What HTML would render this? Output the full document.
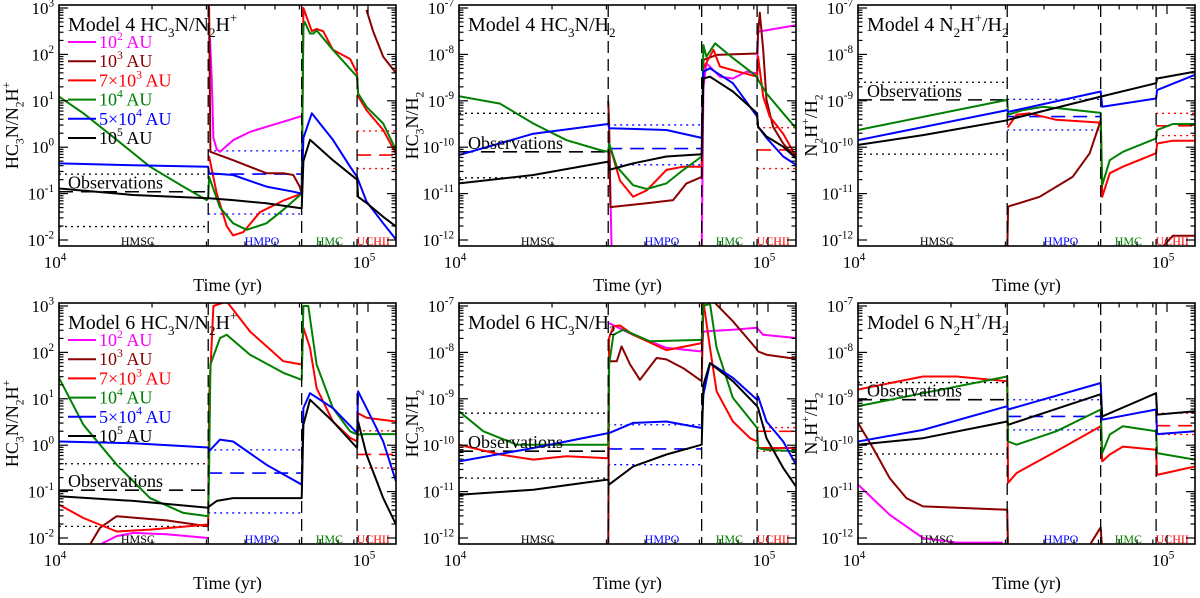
<!DOCTYPE html>
<html><head><meta charset="utf-8"><style>
html,body{margin:0;padding:0;background:#fff;}
svg{display:block;}
svg text, svg tspan{font-family:"Liberation Serif","Times New Roman","DejaVu Serif",serif;}
</style></head><body>
<svg id="fig" width="1200" height="598" viewBox="0 0 1200 598" xmlns="http://www.w3.org/2000/svg" font-family="Liberation Serif, DejaVu Serif, serif"></svg>
<script>
// times in units of 1e4 yr, values are log10 of abundance ratio
const phaseBounds = [3.04, 6.10, 9.22];
const phaseNames = ["HMSC","HMPO","HMC","UCHII"];
const phaseLabelT = [1.8, 4.54, 7.5, 10.4];
const legendLabels = [["10","2"," AU"],["10","3"," AU"],["7×10","3"," AU"],["10","4"," AU"],["5×10","4"," AU"],["10","5"," AU"]];

// Panel 1: Model 4 HC3N/N2H+
const p1_mag_t=[3.04,3.08,3.12,3.16,3.24,3.32,3.66,4.15,4.69,5.32,6.10];
const p1_mag_v=[2.35,2.35,1.5,0.2,-0.05,-0.1,0.15,0.33,0.44,0.55,0.67];
const p1_dkr_t=[3.04,3.06,3.09,3.66,4.69,5.32,5.73,6.01,6.10,null,9.89,10.39,11.2,12.32];
const p1_dkr_v=[3.1,3.0,-0.1,-0.28,-0.56,-0.56,-0.6,-0.85,-1.0,null,2.96,2.5,1.95,1.6];
const p1_red_t=[3.04,3.06,3.24,3.49,3.66,3.95,4.47,5.32,6.10,6.18,6.58,6.82,7.16,7.70,8.75,9.22,9.29,9.89,11.2,12.32];
const p1_red_v=[-0.2,-0.2,-1.0,-1.7,-1.9,-1.83,-1.4,-1.15,-1.0,3.0,2.5,2.55,2.5,2.1,1.9,1.6,1.1,0.8,0.37,-0.14];
const p1_grn_t=[1.0,1.199,1.537,1.97,2.525,3.006,3.04,3.06,3.32,3.66,4.05,4.69,5.32,6.10,6.18,6.24,6.49,6.66,6.82,7.70,9.22,9.29,9.89,11.2,12.32];
const p1_grn_v=[1.09,0.73,0.16,-0.42,-0.85,-1.14,-1.1,-0.64,-1.3,-1.64,-1.78,-1.64,-1.35,-1.0,2.6,2.7,2.45,2.45,2.52,2.1,1.52,1.16,0.87,0.51,-0.06];
const p1_blu_t=[1.0,1.74,3.04,3.06,3.66,4.69,5.73,6.10,6.18,6.58,7.70,8.75,9.22,9.29,9.89,11.2,12.32];
const p1_blu_v=[-0.35,-0.39,-0.42,-0.56,-0.6,-0.85,-0.96,-1.0,0.2,0.73,0.16,-0.42,-0.64,-0.7,-1.17,-1.64,-1.99];
const p1_blk_t=[1.0,1.74,3.04,3.06,3.66,4.69,6.10,6.18,6.49,7.70,9.22,9.29,9.89,11.2,12.32];
const p1_blk_v=[-0.89,-1.03,-1.1,-1.1,-1.14,-1.21,-1.32,-0.3,0.16,-0.28,-0.7,-1.07,-1.2,-1.5,-1.71];
const p1_obs_lo=[-1.71,-1.44,null,-0.46];
const p1_obs_mid=[-0.96,-0.58,null,-0.17];
const p1_obs_hi=[-0.58,-0.08,null,0.35];

// Panel 2: Model 4 HC3N/H2
const p2_mag_t=[3.04,3.06,3.12,null,6.10,6.18,6.32,6.99,7.70,8.52,9.22,9.29,12.32];
const p2_mag_v=[-9.7,-9.7,-12.3,null,-12.3,-8.7,-8.19,-8.48,-8.52,-8.37,-8.41,-7.51,-7.37];
const p2_dkr_t=[3.04,3.06,3.09,4.15,4.93,5.45,6.10,6.18,6.82,9.22,9.29,9.41,9.65,9.89,10.39,11.2,12.32];
const p2_dkr_v=[-9.0,-9.5,-11.29,-11.2,-11.14,-10.78,-10.64,-8.12,-8.01,-7.98,-7.55,-7.1,-7.9,-8.98,-9.56,-9.92,-10.24];
const p2_red_t=[3.04,3.06,3.32,3.66,4.05,4.69,5.32,6.10,6.18,6.66,6.99,7.70,9.22,9.29,9.65,10.13,11.2,12.32];
const p2_red_v=[-9.92,-9.92,-10.72,-11.07,-10.93,-10.49,-10.42,-10.42,-8.3,-7.9,-8.26,-8.34,-8.48,-8.05,-8.91,-9.34,-9.71,-10.2];
const p2_grn_t=[1.0,1.357,1.74,2.23,2.858,3.04,3.06,3.24,3.66,4.05,4.69,5.32,6.10,6.18,6.32,6.74,7.70,9.22,9.29,9.89,11.2,12.32];
const p2_grn_v=[-8.9,-9.06,-9.49,-9.85,-10.06,-10.1,-9.92,-10.42,-10.82,-10.9,-10.78,-10.49,-10.2,-7.8,-8.05,-7.76,-8.08,-8.48,-8.55,-8.84,-9.27,-9.59];
const p2_blu_t=[1.0,1.74,3.04,3.06,4.69,6.10,6.18,6.49,7.70,9.22,9.29,9.89,11.2,12.32];
const p2_blu_v=[-10.17,-9.71,-9.5,-9.59,-9.63,-9.8,-8.37,-8.3,-8.62,-9.34,-9.56,-9.8,-10.2,-10.38];
const p2_blk_t=[1.0,1.74,3.04,3.06,3.66,4.69,6.10,6.18,6.49,7.70,9.22,9.29,9.89,11.2,12.32];
const p2_blk_v=[-10.78,-10.6,-10.31,-10.49,-10.35,-10.2,-10.15,-8.52,-8.48,-8.8,-9.27,-9.56,-9.77,-9.99,-10.24];
const p2_obs_lo=[-10.66,-10.38,null,-10.46];
const p2_obs_mid=[-10.1,-10.03,null,-10.06];
const p2_obs_hi=[-9.27,-9.52,null,-9.58];

// Panel 3: Model 4 N2H+/H2
const p3_mag_t=[];
const p3_mag_v=[];
const p3_dkr_t=[3.04,3.06,3.87,4.95,5.62,6.10,null,9.22,10.44,12.32];
const p3_dkr_v=[-12.3,-11.28,-11.07,-10.64,-10.13,-9.42,null,-12.3,-11.91,-11.91];
const p3_red_t=[3.04,3.06,3.26,3.59,4.38,6.10,6.17,6.53,7.20,9.22,9.29,10.44,12.32];
const p3_red_v=[-9.56,-9.56,-9.3,-9.27,-9.41,-9.47,-11.07,-10.56,-10.42,-10.13,-9.92,-9.86,-9.86];
const p3_grn_t=[1.0,3.04,3.06,3.42,3.97,4.61,6.10,6.17,6.53,7.20,9.22,9.29,10.44,12.32];
const p3_grn_v=[-9.63,-8.98,-9.3,-9.2,-9.13,-9.17,-9.26,-10.82,-10.28,-10.1,-9.81,-9.63,-9.5,-9.5];
const p3_blu_t=[1.0,3.04,3.06,6.10,6.17,9.22,9.29,12.32];
const p3_blu_v=[-9.85,-9.2,-9.24,-8.8,-9.13,-8.95,-8.77,-8.44];
const p3_blk_t=[1.0,1.623,3.04,3.06,6.10,9.22,9.29,12.32];
const p3_blk_v=[-9.95,-9.74,-9.42,-9.41,-8.91,-8.62,-8.52,-8.37];
const p3_obs_lo=[-10.15,-9.63,null,-9.75];
const p3_obs_mid=[-8.98,-9.34,null,-9.54];
const p3_obs_hi=[-8.6,-8.97,null,-9.27];

// Panel 4: Model 6 HC3N/N2H+
const p4_mag_t=[1.357,1.537,1.74,2.23,3.04];
const p4_mag_v=[-2.14,-1.96,-1.89,-1.92,-2.0];
const p4_dkr_t=[1.26,1.357,1.537,1.74,2.23,3.04];
const p4_dkr_v=[-2.14,-1.78,-1.53,-1.56,-1.62,-1.75];
const p4_red_t=[1.0,1.199,1.537,1.97,3.04,3.06,3.16,3.49,4.15,5.32,6.10,6.18,6.49,6.82,7.70,8.75,9.22,9.29,9.89,12.32];
const p4_red_v=[-1.28,-1.57,-1.86,-1.82,-1.71,1.02,3.0,3.1,2.45,1.81,1.74,2.53,2.1,1.23,0.51,0.16,0.08,0.69,0.59,0.51];
const p4_grn_t=[1.0,1.199,1.537,1.97,2.525,3.04,3.06,3.09,3.32,3.49,4.15,5.32,6.10,6.18,6.41,6.82,7.70,8.75,9.22,9.29,9.89,12.32];
const p4_grn_v=[1.45,0.44,-0.42,-1.14,-1.46,-1.53,-0.56,1.74,2.31,2.38,1.95,1.56,1.41,3.0,3.0,1.74,0.8,0.3,0.23,0.23,0.24,0.24];
const p4_blu_t=[1.0,1.74,3.04,3.06,3.32,3.66,4.69,6.10,6.18,6.49,7.70,9.22,9.29,9.89,11.2,12.32];
const p4_blu_v=[0.08,0.04,-0.05,-0.13,0.12,0.08,-0.42,-0.85,0.8,1.12,0.8,0.26,1.16,0.8,0.08,-0.78];
const p4_blk_t=[1.0,1.74,3.04,3.06,3.24,3.66,6.10,6.18,6.49,7.70,9.22,9.29,9.89,11.2,12.32];
const p4_blk_v=[-1.1,-1.2,-1.35,-1.32,-1.2,-1.14,-1.14,0.44,0.98,0.51,-0.06,0.51,-0.2,-1.14,-1.71];
const p4_obs_lo=[-1.75,-1.46,null,-0.49];
const p4_obs_mid=[-0.97,-0.6,null,-0.2];
const p4_obs_hi=[-0.4,-0.1,null,0.31];

// Panel 5: Model 6 HC3N/H2
const p5_mag_t=[3.04,3.06,3.66,4.69,6.10,6.18,7.70,9.22,9.29,9.65,12.32];
const p5_mag_v=[-7.37,-7.37,-7.62,-7.9,-7.98,-7.55,-7.51,-7.47,-7.5,-7.62,-7.69];
const p5_dkr_t=[3.04,3.06,3.24,3.36,3.58,3.85,4.36,4.69,5.32,6.10,6.18,6.66,7.70,9.22,9.29,9.89,12.32];
const p5_dkr_v=[-12.5,-8.19,-8.19,-7.87,-8.26,-8.59,-8.12,-8.15,-8.34,-8.62,-6.9,-6.9,-7.33,-7.94,-7.98,-8.05,-8.14];
const p5_red_t=[1.0,1.357,1.74,2.23,3.04,3.06,3.16,3.32,3.66,4.69,6.10,6.18,6.49,6.82,7.70,8.75,9.22,9.29,12.32];
const p5_red_v=[-9.99,-10.2,-10.31,-10.24,-10.28,-7.69,-7.44,-7.42,-7.62,-7.95,-7.8,-6.9,-7.9,-8.84,-9.49,-9.85,-9.92,-10.06,-10.06];
const p5_grn_t=[1.0,1.199,1.537,3.04,3.06,3.16,3.40,4.15,6.10,6.18,6.49,6.82,7.70,9.22,9.29,9.89,12.32];
const p5_grn_v=[-9.27,-9.7,-9.99,-9.99,-8.26,-7.62,-7.51,-7.76,-7.73,-7.0,-6.95,-7.9,-8.98,-9.63,-10.06,-10.1,-10.13];
const p5_blu_t=[1.0,1.74,3.04,3.06,3.66,4.69,6.10,6.18,6.49,7.70,9.22,9.29,9.89,11.2,12.32];
const p5_blu_v=[-10.35,-10.06,-9.74,-9.74,-9.52,-9.49,-9.63,-8.91,-8.23,-8.55,-9.02,-8.95,-9.49,-9.92,-10.42];
const p5_blk_t=[1.0,1.74,3.04,3.06,3.66,4.69,6.10,6.18,6.49,7.70,9.22,9.29,9.89,11.2,12.32];
const p5_blk_v=[-11.07,-10.96,-10.74,-10.85,-10.46,-10.2,-9.99,-8.7,-8.23,-8.62,-9.16,-9.2,-9.85,-10.49,-10.89];
const p5_obs_lo=[-10.71,-10.42,null,-10.13];
const p5_obs_mid=[-10.13,-10.08,null,-9.7];
const p5_obs_hi=[-9.31,-9.56,null,-9.62];

// Panel 6: Model 6 N2H+/H2
const p6_mag_t=[1.0,1.266,1.623,2.08,2.94];
const p6_mag_v=[-10.85,-11.5,-12,-12.1,-12.1];
const p6_dkr_t=[1.0,1.118,1.266,1.434,1.623,3.04,3.06,null,5.45,6.10,6.17];
const p6_dkr_v=[-9.52,-10.06,-10.71,-11.14,-11.32,-11.39,-12.3,null,-12.3,-11.77,-12.3];
const p6_red_t=[1.0,1.623,2.08,3.04,3.06,3.26,4.38,6.10,6.17,6.53,7.20,9.22,9.29,12.32];
const p6_red_v=[-8.8,-8.52,-8.52,-8.62,-10.81,-10.6,-10.13,-9.59,-10.35,-10.2,-10.03,-10.1,-10.64,-10.46];
const p6_grn_t=[1.0,1.623,3.04,3.06,3.26,4.38,6.10,6.17,6.53,7.20,9.22,9.29,12.32];
const p6_grn_v=[-9.16,-8.88,-8.52,-9.92,-9.99,-9.7,-9.23,-10.17,-9.77,-9.59,-9.7,-10.17,-10.31];
const p6_blu_t=[1.0,1.623,3.04,3.06,6.10,6.17,9.22,9.29,12.32];
const p6_blu_v=[-9.92,-9.67,-9.16,-9.23,-8.66,-9.45,-9.23,-9.76,-9.7];
const p6_blk_t=[1.0,1.623,3.04,3.06,6.10,6.17,9.22,9.29,12.32];
const p6_blk_v=[-9.99,-9.85,-9.49,-9.56,-8.9,-9.38,-8.88,-9.34,-9.27];
const p6_obs_lo=[-10.19,-9.67,null,-9.77];
const p6_obs_mid=[-9.02,-9.38,null,-9.58];
const p6_obs_hi=[-8.65,-9.02,null,-9.31];

const seriesColors=["#ff00ff","#8b0000","#ff0000","#008000","#0000ff","#000000"];
const seriesKeys=["10e2-au","10e3-au","7x10e3-au","10e4-au","5x10e4-au","10e5-au"];
const phaseColors=["#000000","#0000ff","#008000","#ff0000"];

const panels=[
 {x0:59,y0:5,top:3,title:[["Model 4 HC","n"],["3","sub"],["N/N","n"],["2","sub"],["H","n"],["+","sup"]],ytitle:[["HC","n"],["3","sub"],["N/N","n"],["2","sub"],["H","n"],["+","sup"]],legend:true,
  T:[p1_mag_t,p1_dkr_t,p1_red_t,p1_grn_t,p1_blu_t,p1_blk_t],V:[p1_mag_v,p1_dkr_v,p1_red_v,p1_grn_v,p1_blu_v,p1_blk_v],obs:[p1_obs_lo,p1_obs_mid,p1_obs_hi]},
 {x0:459,y0:5,top:-7,title:[["Model 4 HC","n"],["3","sub"],["N/H","n"],["2","sub"]],ytitle:[["HC","n"],["3","sub"],["N/H","n"],["2","sub"]],legend:false,
  T:[p2_mag_t,p2_dkr_t,p2_red_t,p2_grn_t,p2_blu_t,p2_blk_t],V:[p2_mag_v,p2_dkr_v,p2_red_v,p2_grn_v,p2_blu_v,p2_blk_v],obs:[p2_obs_lo,p2_obs_mid,p2_obs_hi]},
 {x0:858,y0:5,top:-7,title:[["Model 4 N","n"],["2","sub"],["H","n"],["+","sup"],["/H","n"],["2","sub"]],ytitle:[["N","n"],["2","sub"],["H","n"],["+","sup"],["/H","n"],["2","sub"]],legend:false,
  T:[p3_mag_t,p3_dkr_t,p3_red_t,p3_grn_t,p3_blu_t,p3_blk_t],V:[p3_mag_v,p3_dkr_v,p3_red_v,p3_grn_v,p3_blu_v,p3_blk_v],obs:[p3_obs_lo,p3_obs_mid,p3_obs_hi]},
 {x0:59,y0:303,top:3,title:[["Model 6 HC","n"],["3","sub"],["N/N","n"],["2","sub"],["H","n"],["+","sup"]],ytitle:[["HC","n"],["3","sub"],["N/N","n"],["2","sub"],["H","n"],["+","sup"]],legend:true,
  T:[p4_mag_t,p4_dkr_t,p4_red_t,p4_grn_t,p4_blu_t,p4_blk_t],V:[p4_mag_v,p4_dkr_v,p4_red_v,p4_grn_v,p4_blu_v,p4_blk_v],obs:[p4_obs_lo,p4_obs_mid,p4_obs_hi]},
 {x0:459,y0:303,top:-7,title:[["Model 6 HC","n"],["3","sub"],["N/H","n"],["2","sub"]],ytitle:[["HC","n"],["3","sub"],["N/H","n"],["2","sub"]],legend:false,
  T:[p5_mag_t,p5_dkr_t,p5_red_t,p5_grn_t,p5_blu_t,p5_blk_t],V:[p5_mag_v,p5_dkr_v,p5_red_v,p5_grn_v,p5_blu_v,p5_blk_v],obs:[p5_obs_lo,p5_obs_mid,p5_obs_hi]},
 {x0:858,y0:303,top:-7,title:[["Model 6 N","n"],["2","sub"],["H","n"],["+","sup"],["/H","n"],["2","sub"]],ytitle:[["N","n"],["2","sub"],["H","n"],["+","sup"],["/H","n"],["2","sub"]],legend:false,
  T:[p6_mag_t,p6_dkr_t,p6_red_t,p6_grn_t,p6_blu_t,p6_blk_t],V:[p6_mag_v,p6_dkr_v,p6_red_v,p6_grn_v,p6_blu_v,p6_blk_v],obs:[p6_obs_lo,p6_obs_mid,p6_obs_hi]}
];

const NS="http://www.w3.org/2000/svg";
const FONT="'Liberation Serif', 'Times New Roman', 'DejaVu Serif', serif";
const svg=document.getElementById("fig");
const W=337,H=241,XDEC=309,YDEC=46.4;
function el(tag,attrs,parent){const e=document.createElementNS(NS,tag);for(const k in attrs)e.setAttribute(k,attrs[k]);if(tag==="text")e.setAttribute("font-family",FONT);(parent||svg).appendChild(e);return e;}
function richText(parent,x,y,parts,size,attrs){
  const t=el("text",Object.assign({x:x,y:y,"font-size":size},attrs||{}),parent);
  let shift=0;
  parts.forEach(p=>{
    const ts=document.createElementNS(NS,"tspan");
    let target=0, fs=size;
    if(p[1]==="sub"){target=size*0.3;fs=size*0.65;}
    else if(p[1]==="sup"){target=-size*0.45;fs=size*0.65;}
    ts.setAttribute("dy",(target-shift).toFixed(2));
    ts.setAttribute("font-size",fs.toFixed(1));
    ts.setAttribute("font-family",FONT);
    ts.textContent=p[0];
    shift=target;
    t.appendChild(ts);
  });
  return t;
}

panels.forEach((P,pi)=>{
  const g=el("g",{});
  
  
  const xs=t=>P.x0+Math.log10(t)*XDEC;
  const ys=v=>P.y0+3+(P.top-v)*YDEC;
  const cid="clip"+pi;
  const cp=el("clipPath",{id:cid},g);el("rect",{x:P.x0,y:P.y0,width:W,height:H},cp);
  const plot=el("g",{"clip-path":"url(#"+cid+")"},g);
  
  
  for(let ph=0;ph<4;ph++){
    const a=ph===0?1:phaseBounds[ph-1], b=ph===3?12.32:phaseBounds[ph];
    [[0,"2,4",1.3],[1,"14,8",1.6],[2,"2,4",1.3]].forEach(([k,dash,sw])=>{
      const v=P.obs[k][ph]; if(v===null||v===undefined) return;
      const ln=el("line",{x1:xs(a),x2:xs(b),y1:ys(v),y2:ys(v),stroke:phaseColors[ph],"stroke-width":sw,"stroke-dasharray":dash},plot);
      
      
    });
  }
  P.T.forEach((ts,si)=>{
    const vs=P.V[si]; let d="",pen=false;
    for(let i=0;i<ts.length;i++){
      if(ts[i]===null||vs[i]===null){pen=false;continue;}
      d+=(pen?"L":"M")+xs(ts[i]).toFixed(1)+","+ys(vs[i]).toFixed(1);pen=true;
    }
    if(!d) return;
    const path=el("path",{d:d,fill:"none",stroke:seriesColors[si],"stroke-width":2,"stroke-linejoin":"round"},plot);
    
    
  });
  phaseBounds.forEach((b,i)=>{
    const ln=el("line",{x1:xs(b),x2:xs(b),y1:P.y0,y2:P.y0+H,stroke:"#000","stroke-width":1.3,"stroke-dasharray":"12,6"},g);
    
    
  });
  phaseNames.forEach((n,i)=>{
    const t=el("text",{x:xs(phaseLabelT[i]),y:P.y0+240,"font-size":12,"text-anchor":"middle",fill:phaseColors[i]},g);
    t.textContent=n;
    
    
  });
  const fr=el("rect",{x:P.x0,y:P.y0,width:W,height:H,fill:"none",stroke:"#000","stroke-width":1.6},g);
  
  
  for(let d=Math.ceil(P.top-5.2);d<=P.top;d++){
    for(let k=1;k<=9;k++){
      const v=d+Math.log10(k); const y=ys(v);
      if(y<P.y0||y>P.y0+H) continue;
      const len=k===1?9:4.5;
      el("line",{x1:P.x0,x2:P.x0+len,y1:y,y2:y,stroke:"#000","stroke-width":1.2},g);
      el("line",{x1:P.x0+W,x2:P.x0+W-len,y1:y,y2:y,stroke:"#000","stroke-width":1.2},g);
      if(k===1){
        const tl=richText(g,P.x0-5,y+6,[["10","n"],[String(d),"sup"]],17,{"text-anchor":"end"});
        
        
      }
    }
  }
  for(let k=1;k<=10;k++){
    const x=xs(k); const len=(k===1||k===10)?9:4.5;
    el("line",{x1:x,x2:x,y1:P.y0+H,y2:P.y0+H-len,stroke:"#000","stroke-width":1.2},g);
    el("line",{x1:x,x2:x,y1:P.y0,y2:P.y0+len,stroke:"#000","stroke-width":1.2},g);
    if(k===1||k===10){
      const tl=richText(g,x-4,P.y0+H+22,[["10","n"],[k===1?"4":"5","sup"]],17,{"text-anchor":"middle"});
      
      
    }
  }
  const xt=el("text",{x:P.x0+W/2,y:P.y0+H+45,"font-size":18,"text-anchor":"middle"},g);
  xt.textContent="Time (yr)";
  
  
  const yt=richText(g,0,0,P.ytitle,18,{"text-anchor":"middle",transform:"translate("+(P.x0-41)+","+(P.y0+H/2)+") rotate(-90)"});
  
  
  const tt=richText(g,P.x0+9,P.y0+26,P.title,20,{});
  
  
  const ot=el("text",{x:P.x0+9,y:ys(P.obs[1][0])-3,"font-size":18},g);
  ot.textContent="Observations";
  
  
  if(P.legend){
    legendLabels.forEach((lab,i)=>{
      const cy=P.y0+37+i*19.2;
      const lg=el("g",{},g);
      
      
      el("line",{x1:P.x0+9,x2:P.x0+37,y1:cy,y2:cy,stroke:seriesColors[i],"stroke-width":2},lg);
      richText(lg,P.x0+40,cy+6,[[lab[0],"n"],[lab[1],"sup"],[lab[2],"n"]],18,{fill:seriesColors[i]});
    });
  }
});
</script>
</body></html>
